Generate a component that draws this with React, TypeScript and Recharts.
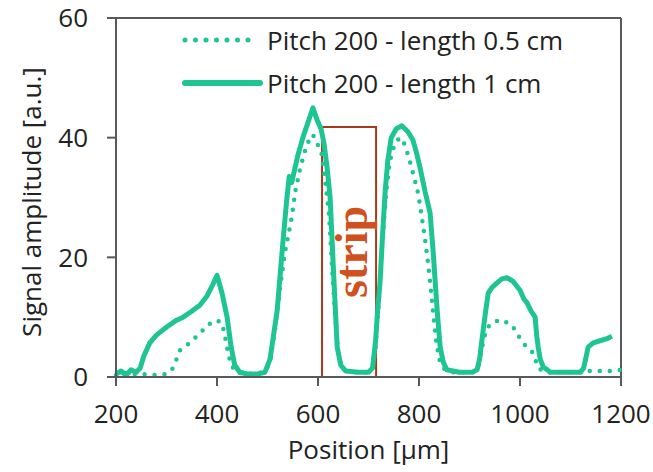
import React from "react";
import {
  LineChart,
  Line,
  XAxis,
  YAxis,
  ReferenceArea,
  ReferenceLine,
  Legend,
} from "recharts";

// positions [µm] and amplitudes [a.u.]
const posHalfCm = [
  200, 215, 230, 245, 260, 280, 300, 313, 320, 327, 346, 366, 380, 390, 400, 410, 416, 422, 428, 438,
  460, 495, 505, 515, 525, 535, 548, 555, 565, 575, 584, 590, 598, 606, 614, 622, 628, 634, 640, 648,
  660, 700, 708, 714, 720, 727, 734, 742, 752, 762, 768, 775, 782, 790, 798, 805, 812, 818, 823, 828,
  834, 840, 848, 860, 910, 918, 925, 932, 940, 950, 958, 966, 976, 986, 996, 1006, 1016, 1024, 1030, 1036,
  1050, 1100, 1140, 1160, 1180, 1200,
];
const ampHalfCm = [
  0.3, 0.8, 0.3, 0.6, 0.4, 0.3, 0.5, 1.5, 3, 4.5, 5.7, 7.3, 8.5, 9.2, 9.5, 9, 6.7, 4, 2, 0.8,
  0.5, 0.8, 2.5, 8, 15, 21, 26.7, 31, 35, 38, 40, 40.5, 39, 38, 33, 27, 18, 10, 4, 1.5,
  0.8, 0.8, 1.5, 5, 12, 22, 30, 36, 39, 40, 39.6, 38, 36, 33.5, 30.8, 27, 23, 19, 15, 10.7,
  6, 3, 1.5, 0.8, 0.8, 2, 5, 7.5, 8.8, 9.2, 9.5, 9.5, 9, 8.4, 7, 5.7, 4.8, 4.2, 3, 1.5,
  0.8, 0.8, 1, 1, 1, 1.2,
];

const posOneCm = [
  200, 210, 220, 230, 240, 248, 255, 267, 280, 301, 320, 333, 350, 366, 380, 392, 400, 410, 420, 428,
  435, 445, 460, 480, 495, 505, 512, 519, 525, 531, 538, 543, 548, 552, 560, 570, 580, 590, 598, 606,
  612, 618, 624, 630, 634, 638, 645, 655, 680, 700, 708, 714, 718, 723, 728, 733, 738, 745, 755, 766,
  778, 788, 795, 802, 812, 822, 828, 832, 837, 842, 848, 855, 880, 905, 915, 920, 927, 932, 937, 945,
  954, 964, 974, 986, 1000, 1008, 1014, 1022, 1030, 1033, 1036, 1040, 1046, 1060, 1090, 1120, 1126, 1130, 1135, 1145,
  1160, 1172, 1182,
];
const ampOneCm = [
  0.5, 1, 0.3, 1.2, 0.8, 1.5, 3.5, 5.7, 7, 8.4, 9.5, 10, 11, 12, 13.5, 15.5, 17, 14, 10, 5,
  2, 0.8, 0.5, 0.5, 0.8, 3, 7, 11, 17, 23, 29.5, 33.5, 32.5, 34, 37, 40, 42.5, 45, 43, 41.5,
  39, 35, 30, 19, 12, 5, 2, 1, 0.8, 0.8, 1.5, 6, 11, 16, 24, 31, 36, 40, 41.5, 42,
  41, 39.6, 37.5, 35, 31, 27.4, 21, 16, 10, 5, 2.5, 1.2, 0.8, 0.8, 1.2, 3, 7.8, 11, 14, 15,
  15.7, 16.4, 16.6, 16, 14.5, 13, 12.4, 11, 10, 7, 5, 3, 1.7, 0.8, 0.8, 0.8, 1.5, 3, 5, 5.7,
  6.1, 6.4, 6.8,
];

const xTicks = [200, 400, 600, 800, 1000, 1200];
const yTicks = [0, 20, 40, 60];
const strip = { from: 608, to: 715, top: 41.8 };

const halfCm = posHalfCm.map((x, i) => ({ x, y: ampHalfCm[i] }));
const oneCm = posOneCm.map((x, i) => ({ x, y: ampOneCm[i] }));

const GREEN = "#1ec592";
const AXIS = "#595959";
const FONT = "Open Sans, sans-serif";
const tickStyle = { fontSize: 26, fill: "#222", fontFamily: FONT };

function LegendBox() {
  return (
    <svg width={430} height={92} style={{ overflow: "visible", display: "block" }}>
      <line x1={5} x2={70} y1={22} y2={22} stroke={GREEN} strokeWidth={5}
        strokeDasharray="0 10.5" strokeLinecap="round" />
      <text x={87} y={22} dominantBaseline="central" style={tickStyle}>
        Pitch 200 - length 0.5 cm
      </text>
      <line x1={5} x2={80} y1={65} y2={65} stroke={GREEN} strokeWidth={6} strokeLinecap="round" />
      <text x={87} y={65} dominantBaseline="central" style={tickStyle}>
        Pitch 200 - length 1 cm
      </text>
    </svg>
  );
}

function StripLabel({ viewBox }: any) {
  const bx = viewBox.x + 45;
  const cy = viewBox.y + viewBox.height / 2;
  return (
    <text x={bx} y={cy} transform={`rotate(-90 ${bx} ${cy})`} textAnchor="middle"
      fill="#d0501e" fontFamily="Liberation Serif, serif" fontWeight="bold" fontSize={46}>
      strip
    </text>
  );
}

export default function App() {
  return (
    <div style={{ position: "absolute", left: 0, top: 0, background: "#fff" }}>
      <LineChart width={653} height={472} margin={{ top: 18, right: 32, left: 0, bottom: 0 }}>
        <XAxis
          type="number"
          dataKey="x"
          domain={[200, 1200]}
          ticks={xTicks}
          height={95}
          tick={tickStyle}
          tickSize={9}
          tickMargin={19}
          stroke={AXIS}
          strokeWidth={2}
          label={{
            content: ({ viewBox }: any) => (
              <text x={viewBox.x + viewBox.width / 2} y={449} textAnchor="middle"
                dominantBaseline="central" style={tickStyle}>
                Position [µm]
              </text>
            ),
          }}
        />
        <YAxis
          type="number"
          dataKey="y"
          domain={[0, 60]}
          ticks={yTicks}
          width={116}
          tick={tickStyle}
          tickSize={9}
          tickMargin={19}
          stroke={AXIS}
          strokeWidth={2}
          label={{
            content: () => (
              <text x={31} y={202} transform="rotate(-90 31 202)" textAnchor="middle"
                dominantBaseline="central" style={tickStyle}>
                Signal amplitude [a.u.]
              </text>
            ),
          }}
        />
        <ReferenceLine y={60} stroke={AXIS} strokeWidth={2} />
        <ReferenceLine x={1200} stroke={AXIS} strokeWidth={2} />
        <Line data={halfCm} dataKey="y" stroke={GREEN} strokeWidth={4.5} strokeDasharray="0 10"
          strokeLinecap="round" dot={false} isAnimationActive={false} />
        <Line data={oneCm} dataKey="y" stroke={GREEN} strokeWidth={5} strokeLinejoin="round"
          dot={false} isAnimationActive={false} />
        <ReferenceArea x1={strip.from} x2={strip.to} y1={0} y2={strip.top} fill="none"
          fillOpacity={0} stroke="#a8391b" strokeWidth={2} label={<StripLabel />} />
        <Legend layout="horizontal" verticalAlign="middle" align="center"
          wrapperStyle={{ top: 18, left: 180, width: 430, height: 92 }} content={() => <LegendBox />} />
      </LineChart>
    </div>
  );
}
